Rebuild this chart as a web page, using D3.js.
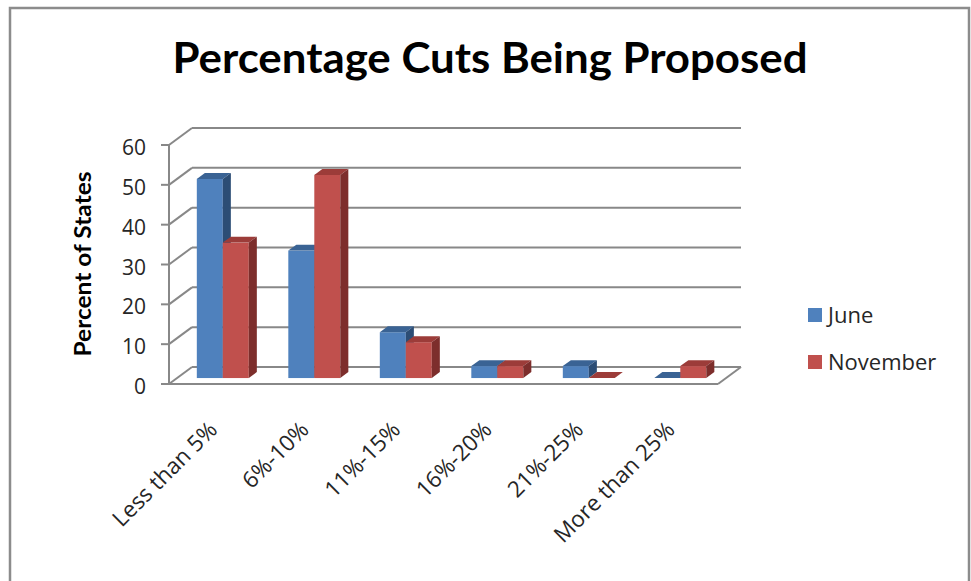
<!DOCTYPE html>
<html>
<head>
<meta charset="utf-8">
<script src="https://cdn.jsdelivr.net/npm/d3@7"></script>
<style>
    html, body { margin: 0; padding: 0; background: #fff; }
    svg { display: block; font-family: "Open Sans", Calibri, sans-serif; }
</style>
</head>
<body>
<div id="chart"></div>
<script>
    'use strict';

    // Data
    var categories = ["Less than 5%", "6%-10%", "11%-15%", "16%-20%", "21%-25%", "More than 25%"];
    var seriesNames = ["June", "November"];
    var june = [50, 32, 11.5, 3, 3, 0];
    var november = [34, 51, 9, 3, 0, 3];
    var yTicks = [0, 10, 20, 30, 40, 50, 60];

    var colors = {
        June: { front: "#4F81BD", top: "#3A6394", side: "#2C4D75" },
        November: { front: "#C0504D", top: "#9C3C39", side: "#7D2E2C" }
    };

    var width = 971, height = 581;
    var gridColor = "#888888";
    var textColor = "#262626";

    var svg = d3.select("#chart").append("svg")
        .attr("width", width)
        .attr("height", height);

    svg.append("rect").attr("width", width).attr("height", height).attr("fill", "#fff");

    // outer frame
    svg.append("rect")
        .attr("x", 10).attr("y", 8)
        .attr("width", 959).attr("height", 620)
        .attr("fill", "none")
        .attr("stroke", "#8c8c8c")
        .attr("stroke-width", 2.5);

    // title
    svg.append("text")
        .attr("x", 490).attr("y", 73)
        .attr("text-anchor", "middle")
        .attr("font-family", "Lato, sans-serif")
        .attr("font-size", 42)
        .attr("font-weight", "bold")
        .attr("textLength", 635)
        .attr("lengthAdjust", "spacingAndGlyphs")
        .attr("fill", "#000")
        .text("Percentage Cuts Being Proposed");

    // 3D layout: front plane + depth vector
    var depth = { dx: 23, dy: -17 };
    var barT0 = 0.35, barT1 = 0.7;
    var x0 = 169, x1 = 718;

    var yScale = d3.scaleLinear().domain([0, 60]).range([384, 145]);
    var xScale = d3.scaleBand().domain(categories).range([x0, x1]).paddingInner(0.432).paddingOuter(0.216);
    var xSeries = d3.scaleBand().domain(seriesNames).range([0, xScale.bandwidth()]);

    var walls = svg.append("g").attr("stroke", gridColor).attr("stroke-width", 2).attr("fill", "none");

    // back wall gridlines
    walls.selectAll(".grid").data(yTicks).enter()
        .append("line").attr("class", "grid")
        .attr("x1", x0 + depth.dx).attr("x2", x1 + depth.dx)
        .attr("y1", function(d) { return yScale(d) + depth.dy; })
        .attr("y2", function(d) { return yScale(d) + depth.dy; });

    // side wall diagonals
    walls.selectAll(".diag").data(yTicks).enter()
        .append("line").attr("class", "diag")
        .attr("x1", x0).attr("x2", x0 + depth.dx)
        .attr("y1", function(d) { return yScale(d); })
        .attr("y2", function(d) { return yScale(d) + depth.dy; });

    // floor edges
    walls.append("line")
        .attr("x1", x0).attr("x2", x1)
        .attr("y1", yScale(0)).attr("y2", yScale(0));
    walls.append("line")
        .attr("x1", x1).attr("x2", x1 + depth.dx)
        .attr("y1", yScale(0)).attr("y2", yScale(0) + depth.dy);

    // y axis
    walls.append("line")
        .attr("x1", x0).attr("x2", x0)
        .attr("y1", yScale(60)).attr("y2", yScale(0));
    walls.selectAll(".tick").data(yTicks).enter()
        .append("line").attr("class", "tick")
        .attr("x1", x0 - 8).attr("x2", x0)
        .attr("y1", function(d) { return yScale(d); })
        .attr("y2", function(d) { return yScale(d); });

    svg.append("g").selectAll("text").data(yTicks).enter()
        .append("text")
        .attr("x", 146)
        .attr("y", function(d) { return yScale(d) + 10; })
        .attr("text-anchor", "end")
        .attr("font-size", 21)
        .attr("fill", textColor)
        .text(function(d) { return d; });

    svg.append("text")
        .attr("transform", "translate(91,264) rotate(-90)")
        .attr("text-anchor", "middle")
        .attr("font-family", "Lato, sans-serif")
        .attr("font-size", 22)
        .attr("font-weight", "bold")
        .attr("textLength", 185)
        .attr("lengthAdjust", "spacingAndGlyphs")
        .attr("fill", "#000")
        .text("Percent of States");

    // bars
    var fx = depth.dx * barT0, fy = depth.dy * barT0;
    var bdx = depth.dx * (barT1 - barT0), bdy = depth.dy * (barT1 - barT0);
    var bars = [];
    categories.forEach(function(c, i) {
        bars.push({ cat: c, name: "June", value: june[i] });
        bars.push({ cat: c, name: "November", value: november[i] });
    });

    var barG = svg.append("g").selectAll("g").data(bars).enter().append("g");

    barG.each(function(d) {
        var g = d3.select(this);
        var xl = xScale(d.cat) + xSeries(d.name) + fx;
        var xr = xl + xSeries.bandwidth();
        var yt = yScale(d.value) + fy;
        var yb = yScale(0) + fy;
        var col = colors[d.name];
        g.append("rect")
            .attr("x", xl).attr("y", yt)
            .attr("width", xr - xl).attr("height", yb - yt)
            .attr("fill", col.front);
        g.append("polygon")
            .attr("points", [[xl, yt], [xl + bdx, yt + bdy], [xr + bdx, yt + bdy], [xr, yt]].join(" "))
            .attr("fill", col.top);
        g.append("polygon")
            .attr("points", [[xr, yt], [xr + bdx, yt + bdy], [xr + bdx, yb + bdy], [xr, yb]].join(" "))
            .attr("fill", col.side);
    });

    // category labels
    svg.append("g").selectAll("text").data(categories).enter()
        .append("text")
        .attr("transform", function(d) {
            return "translate(" + (xScale(d) + xScale.bandwidth() / 2 + 4) + ",431) rotate(-45)";
        })
        .attr("text-anchor", "end")
        .attr("font-size", 22.5)
        .attr("fill", textColor)
        .text(function(d) { return d; });

    // legend
    var legend = svg.append("g").selectAll("g").data(seriesNames).enter()
        .append("g")
        .attr("transform", function(d, i) { return "translate(808," + (308 + i * 47) + ")"; });
    legend.append("rect")
        .attr("width", 14).attr("height", 14)
        .attr("fill", function(d) { return colors[d].front; });
    legend.append("text")
        .attr("x", 20).attr("y", 15)
        .attr("font-size", 22)
        .attr("fill", textColor)
        .text(function(d) { return d; });
</script>
</body>
</html>
